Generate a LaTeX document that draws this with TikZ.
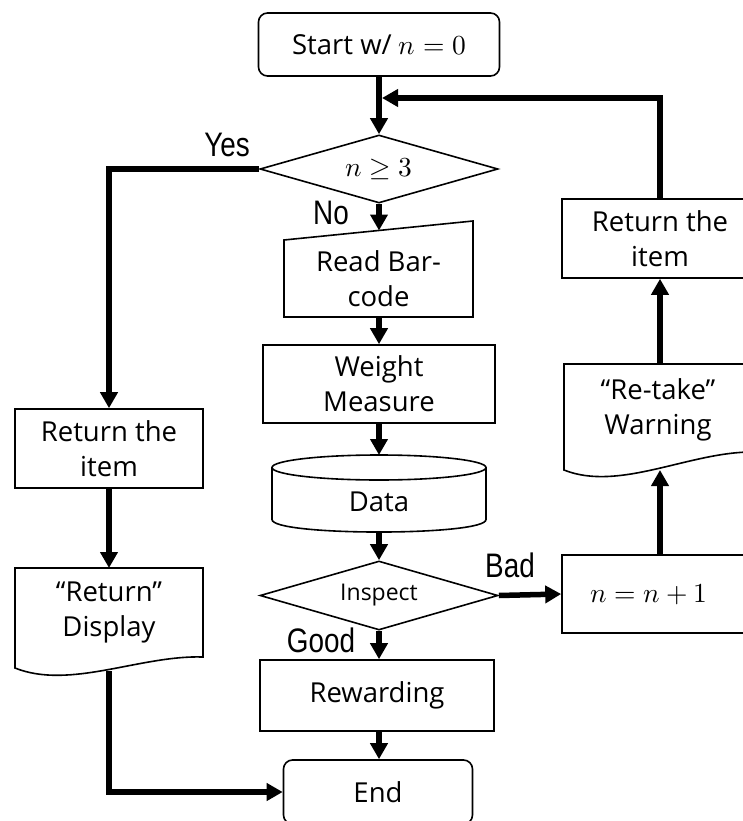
\documentclass[tikz,border=0pt]{standalone}
\usepackage{fontspec}
\usepackage{unicode-math}
\setmainfont{Open Sans}
\setmathfont{Latin Modern Math}
\newfontfamily\lblfamily{Liberation Sans}
\usetikzlibrary{shapes.geometric,arrows.meta}
\newcommand{\mainsz}{\fontsize{27.5}{35}\selectfont}
\newcommand{\smallsz}{\fontsize{23}{26}\selectfont}
\newcommand{\lblsz}{\lblfamily\fontsize{34}{40}\selectfont}
\newcommand{\narrow}[1]{\scalebox{0.82}[1]{#1}}
\begin{document}
\begin{tikzpicture}[x=1pt,y=-1pt,
  lw/.style={line width=1.6pt},
  box/.style={draw,lw,inner sep=0pt,align=center,font=\mainsz},
  plain/.style={inner sep=0pt,align=center,font=\mainsz},
  arr/.style={line width=5.5pt,-{Triangle[length=16pt,width=17pt]}},
  lbl/.style={inner sep=0pt,font=\lblsz,anchor=base}]
\useasboundingbox (0,0) rectangle (743,821);
\fill[white] (0,0) rectangle (743,821);

% main column
\node[box,rounded corners=9pt,minimum width=241pt,minimum height=63pt] (start) at (379,44.5) {Start w/ $n=0$};
\node[box,diamond,aspect=3.5,minimum width=238pt,minimum height=68pt] (d1) at (379,169) {$n\geq 3$};

\draw[lw] (284,240) -- (473,221) -- (473,317) -- (284,317) -- cycle;
\node[plain] (read) at (378.5,279) {Read Bar-\\code};
\coordinate (readtop) at (379,230.5);
\coordinate (readbot) at (379,317);

\node[box,minimum width=232pt,minimum height=78pt] (weight) at (379,384) {Weight\\Measure};

\draw[lw] (379,467.5) ellipse [x radius=107pt, y radius=12.5pt];
\draw[lw] (272,467.5) -- (272,519.5) .. controls (272,536.2) and (486,536.2) .. (486,519.5) -- (486,467.5);
\node[plain] (data) at (379,502) {Data};
\coordinate (datatop) at (379,455);
\coordinate (databot) at (379,532);

\node[box,diamond,aspect=3.5,minimum width=238pt,minimum height=69pt,font=\smallsz] (insp) at (379,595.5) {Inspect};
\node[box,minimum width=196pt,minimum height=78pt] (inc) at (660,594) {\hspace*{-22pt}$n=n+1$};

\node[box,minimum width=234pt,minimum height=71pt] (rew) at (377,695.5) {Rewarding};
\node[box,rounded corners=9pt,minimum width=189pt,minimum height=64pt] (end) at (378,792) {End};

% left column
\node[box,minimum width=188pt,minimum height=79pt] (retL) at (109,448.5) {Return the\\item};
\draw[lw] (15,568) -- (203,568) -- (203,657) .. controls (140,655) and (70,690) .. (15,668) -- cycle;
\node[plain] (disp) at (109,612) {“Return”\\Display};
\coordinate (disptop) at (109,568);
\coordinate (dispbot) at (109,671);

% right column
\node[box,minimum width=196pt,minimum height=79pt] (retR) at (660,238.5) {Return the\\item};
\draw[lw] (564,364) -- (752,364) -- (752,452) .. controls (689,452) and (619,492) .. (564,470) -- cycle;
\node[plain] (retake) at (658,410) {“Re-take”\\Warning};
\coordinate (rttop) at (660,364);
\coordinate (rtbot) at (660,470);
\coordinate (merge) at (382,98);

% connectors
\draw[arr] (start.south) -- (d1.north);
\draw[arr] (retR.north) |- (merge);
\draw[arr] (d1.west) -| (retL.north);
\draw[arr] (d1.south) -- (readtop);
\draw[arr] (readbot) -- (weight.north);
\draw[arr] (weight.south) -- (datatop);
\draw[arr] (databot) -- (insp.north);
\draw[arr] (insp.east) -- (inc.west);
\draw[arr] (insp.south) -- (insp.south |- rew.north);
\draw[arr] (rew.south -| insp.south) -- (insp.south |- end.north);
\draw[arr] (retL.south) -- (disptop);
\draw[arr] (dispbot) |- (end.west);
\draw[arr] (inc.north -| rtbot) -- (rtbot);
\draw[arr] (rttop) -- (retR.south -| rttop);

% labels
\node[lbl] (yes) at (227,157) {\narrow{Yes}};
\node[lbl] (no) at (331,224) {\narrow{No}};
\node[lbl] (good) at (321,652) {\narrow{Good}};
\node[lbl] (bad) at (510,577) {\narrow{Bad}};
\end{tikzpicture}
\end{document}
